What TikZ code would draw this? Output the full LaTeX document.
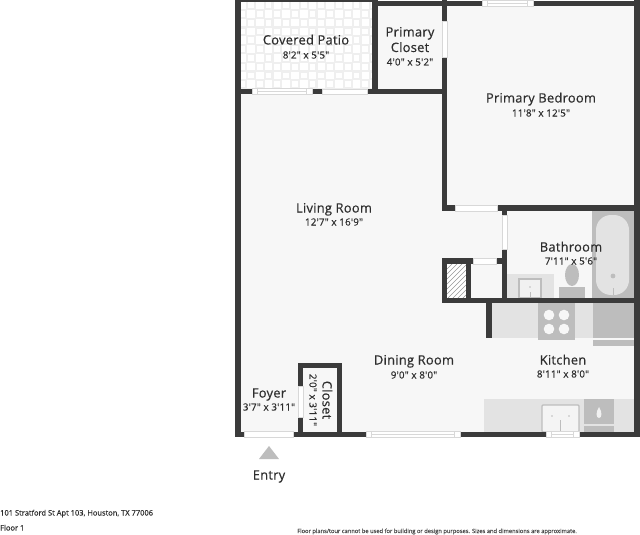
\documentclass[tikz,border=0pt]{standalone}
\usepackage{fontspec}
\setmainfont{Open Sans}[Ligatures=TeXOff,FakeBold=0.45]
\newcommand{\rbox}[5]{\fill[#1] (#2,#3) rectangle (#4,#5);}
\newcommand{\doorh}[3]{\fill[white,draw=linec,line width=.4pt] (#1,#3) rectangle (#2,#3+5.5);}
\newcommand{\windowh}[3]{\fill[white,draw=linec,line width=.4pt] (#1,#3) rectangle (#2,#3+5.5);
  \draw[linec,line width=.5pt] (#1+5.5,#3) rectangle (#2-5.5,#3+5.5);
  \draw[linec,line width=.5pt] (#1+5.5,#3+2.75) -- (#2-5.5,#3+2.75);}
\definecolor{wallc}{HTML}{3B3B3B}
\definecolor{floorc}{HTML}{F7F7F7}
\definecolor{fixa}{HTML}{E3E3E3}
\definecolor{fixb}{HTML}{BDBDBD}
\definecolor{linec}{HTML}{D8D8D8}
\definecolor{textc}{HTML}{2E2E2E}
\definecolor{tilec}{HTML}{EFEFEF}
\tikzset{
  roomname/.style={font=\fontsize{12.9}{14}\selectfont\addfontfeatures{LetterSpace=2},text=textc,inner sep=0pt,anchor=base},
  roomdim/.style={font=\fontsize{9.8}{11}\selectfont\addfontfeatures{LetterSpace=2},text=textc,inner sep=0pt,anchor=base},
  foot/.style={font=\fontsize{7.5}{8}\selectfont,text=textc,inner sep=0pt,anchor=base west},
  foots/.style={font=\fontsize{5.75}{7}\selectfont,text=textc!85,inner sep=0pt,anchor=base west}
}
\begin{document}
\begin{tikzpicture}[x=1pt,y=-1pt]
\useasboundingbox (0,0) rectangle (640,535);
\fill[white] (0,0) rectangle (640,535);
% floors
\rbox{floorc}{238}{2}{637}{435}
% patio tiles
\rbox{tilec}{241}{2}{372}{89}
\begin{scope}
\clip (241,2) rectangle (372,89);
\foreach \i in {0,...,15}{\foreach \j in {0,...,10}{
  \pgfmathsetmacro{\px}{238+8.8*\i}
  \pgfmathsetmacro{\py}{1+8.8*\j}
  \pgfmathtruncatemacro{\odd}{mod(\i+\j,2)}
  \ifnum\odd=0
    \fill[white] (\px+.3,\py+.3) rectangle ++(7.6,7.6);
  \else
    \fill[white] (\px+1.2,\py+1.2) rectangle ++(5.8,5.8);
  \fi
}}
\end{scope}
% bathroom fixtures
\rbox{fixb}{592}{211}{634}{298}
\fill[fixa,rounded corners=15pt] (596,215) rectangle (629,295);
\fill[fixb] (613,276) circle (2.4);
\draw[fixb,line width=.8pt] (613,288) -- (613,295);
\rbox{fixa}{507}{274}{554}{298}
\fill[white!50!fixa,draw=fixb,line width=1.2pt] (519,279) rectangle (541,298);
\fill[fixb] (530,287) circle (.8);
\draw[fixb,line width=.6pt] (530,292) -- (530,298);
\rbox{fixb}{559}{287}{585}{298}
\fill[fixb] (572,275) ellipse (7 and 11);
% kitchen fixtures
\rbox{fixa}{492}{303}{593}{338}
\rbox{fixb}{538}{303}{575}{340}
\foreach \bx/\by in {549/315,564/315,549/329,564/329}{\fill[white!70!fixa] (\bx,\by) circle (5.3);}
\rbox{fixb}{593}{303}{634}{338}
\rbox{fixb}{593}{340}{634}{346}
\rbox{fixa}{484}{399}{634}{432}
\fill[white!60!fixa,draw=fixb,line width=1.4pt,rounded corners=1pt] (542,405) rectangle (579,432);
\fill[fixb] (552,416) circle (.9);
\fill[fixb] (569,416) circle (.9);
\draw[fixb,line width=.7pt] (560.5,420) -- (560.5,432);
\rbox{fixb}{584}{399}{614}{424}
\rbox{fixb}{584}{426}{614}{432}
\fill[white!50!fixa] (599,418) .. controls (596,418) and (595.5,412) .. (599,407) .. controls (602.5,412) and (602,418) .. (599,418);
% hatch
\begin{scope}
\clip (447,264) rectangle (466,298);
\rbox{white}{447}{264}{466}{298}
\foreach \k in {0,5,...,55}{\draw[fixb!80!black,line width=.5pt] (447,264+\k) -- (466,264+\k-19);}
\end{scope}
% outer walls
\rbox{wallc}{235}{0}{241}{437}
\rbox{wallc}{634}{0}{640}{437}
\rbox{wallc}{241}{0}{372}{2}
\rbox{wallc}{372}{1}{634}{6}
\rbox{wallc}{235}{432}{640}{437}
% inner walls
\rbox{wallc}{372}{0}{378}{94}
\rbox{wallc}{241}{89}{252}{94}
\rbox{wallc}{312}{89}{322}{94}
\rbox{wallc}{367}{89}{447}{94}
\rbox{wallc}{442}{0}{447}{211}
\rbox{wallc}{442}{205}{455}{211}
\rbox{wallc}{497}{205}{640}{211}
\rbox{wallc}{502}{205}{507}{303}
\rbox{wallc}{442}{258}{473}{264}
\rbox{wallc}{496}{258}{507}{264}
\rbox{wallc}{442}{258}{447}{303}
\rbox{wallc}{466}{258}{471}{303}
\rbox{wallc}{442}{298}{640}{303}
\rbox{wallc}{486}{303}{492}{338}
\rbox{wallc}{298}{363}{342}{368}
\rbox{wallc}{298}{363}{303}{437}
\rbox{wallc}{337}{363}{342}{437}
% openings
\fill[white,draw=linec,line width=.4pt] (442,21) rectangle (447,57);
\fill[white,draw=linec,line width=.4pt] (502,215) rectangle (507,249);
\fill[white,draw=linec,line width=.4pt] (298,386) rectangle (303,417);
\doorh{322}{367}{89}
\doorh{455}{497}{205.5}
\doorh{473}{496}{258.5}
\doorh{244}{293}{431.5}
\windowh{252}{312}{88.5}
\windowh{482}{533}{0.5}
\windowh{366}{460}{431.5}
\windowh{546}{579}{431.5}
% entry marker
\fill[fixb] (269,446) -- (279,459) -- (259,459) -- cycle;
% labels
\node[roomname] (patio) at (306,44.5) {Covered Patio};
\node[roomdim] (patiod) at (306,58.5) {8'2" x 5'5"};
\node[roomname] (pc1) at (410,36.5) {Primary};
\node[roomname] (pc2) at (410,52) {Closet};
\node[roomdim] (pcd) at (410,65.5) {4'0" x 5'2"};
\node[roomname] (bed) at (541,102.5) {Primary Bedroom};
\node[roomdim] (bedd) at (541,116.5) {11'8" x 12'5"};
\node[roomname] (living) at (334,212.5) {Living Room};
\node[roomdim] (livingd) at (334,225.5) {12'7" x 16'9"};
\node[roomname] (bath) at (571,251.5) {Bathroom};
\node[roomdim] (bathd) at (571,264.5) {7'11" x 5'6"};
\node[roomname] (dining) at (414,364.5) {Dining Room};
\node[roomdim] (diningd) at (414,378.5) {9'0" x 8'0"};
\node[roomname] (kitchen) at (563,364.5) {Kitchen};
\node[roomdim] (kitchend) at (563,377.5) {8'11" x 8'0"};
\node[roomname] (foyer) at (269,397.5) {Foyer};
\node[roomdim] (foyerd) at (269,410.5) {3'7" x 3'11"};
\node[roomname,rotate=-90] (closet) at (322.5,400) {Closet};
\node[roomdim,rotate=-90] (closetd) at (309.5,400) {2'0" x 3'11"};
\node[roomname] (entry) at (269,479.5) {Entry};
\node[foot] (addr) at (0,515.5) {101 Stratford St Apt 103, Houston, TX 77006};
\node[foot] (floor) at (0,530.5) {Floor 1};
\node[foots] (disc) at (297,533) {Floor plans/tour cannot be used for building or design purposes. Sizes and dimensions are approximate.};
\end{tikzpicture}
\end{document}
